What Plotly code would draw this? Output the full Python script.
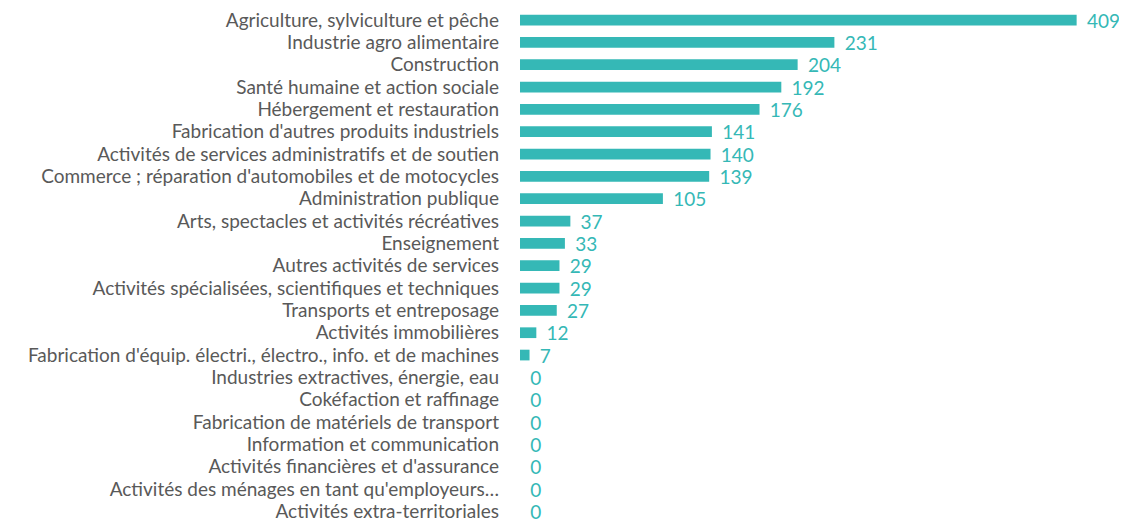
import plotly.graph_objects as go

categories = [
    "Agriculture, sylviculture et pêche",
    "Industrie agro alimentaire",
    "Construction",
    "Santé humaine et action sociale",
    "Hébergement et restauration",
    "Fabrication d'autres produits industriels",
    "Activités de services administratifs et de soutien",
    "Commerce ; réparation d'automobiles et de motocycles",
    "Administration publique",
    "Arts, spectacles et activités récréatives",
    "Enseignement",
    "Autres activités de services",
    "Activités spécialisées, scientifiques et techniques",
    "Transports et entreposage",
    "Activités immobilières",
    "Fabrication d'équip. électri., électro., info. et de machines",
    "Industries extractives, énergie, eau",
    "Cokéfaction et raffinage",
    "Fabrication de matériels de transport",
    "Information et communication",
    "Activités financières et d'assurance",
    "Activités des ménages en tant qu'employeurs…",
    "Activités extra-territoriales",
]
values = [409, 231, 204, 192, 176, 141, 140, 139, 105, 37, 33, 29, 29, 27, 12, 7, 0, 0, 0, 0, 0, 0, 0]

teal = "#35B8B6"
gray = "#595959"
font_family = "Lato, 'Open Sans', sans-serif"

fig = go.Figure(go.Bar(
    x=values,
    y=categories,
    orientation="h",
    marker=dict(color=teal, line=dict(width=0)),
    text=values,
    texttemplate=" \u2009%{x}",
    textposition="outside",
    constraintext="none",
    textfont=dict(color=teal, size=19, family=font_family),
    cliponaxis=False,
    width=0.48,
))

n = len(categories)
fig.update_layout(
    width=1119, height=513,
    margin=dict(l=512, r=0, t=0, b=0),
    paper_bgcolor="white", plot_bgcolor="white",
    showlegend=False,
    font=dict(family=font_family, color=gray, size=19),
    xaxis=dict(range=[0, 446], visible=False, fixedrange=True, automargin=False),
    yaxis=dict(
        range=[n - 1 + 0.43, -0.538],
        tickmode="array", tickvals=categories, ticktext=categories,
        showgrid=False, zeroline=False, showline=False,
        automargin=False,
        ticks="", ticklabelstandoff=20,
        tickfont=dict(color=gray, size=19, family=font_family),
    ),
)

fig.write_html("out.html")
